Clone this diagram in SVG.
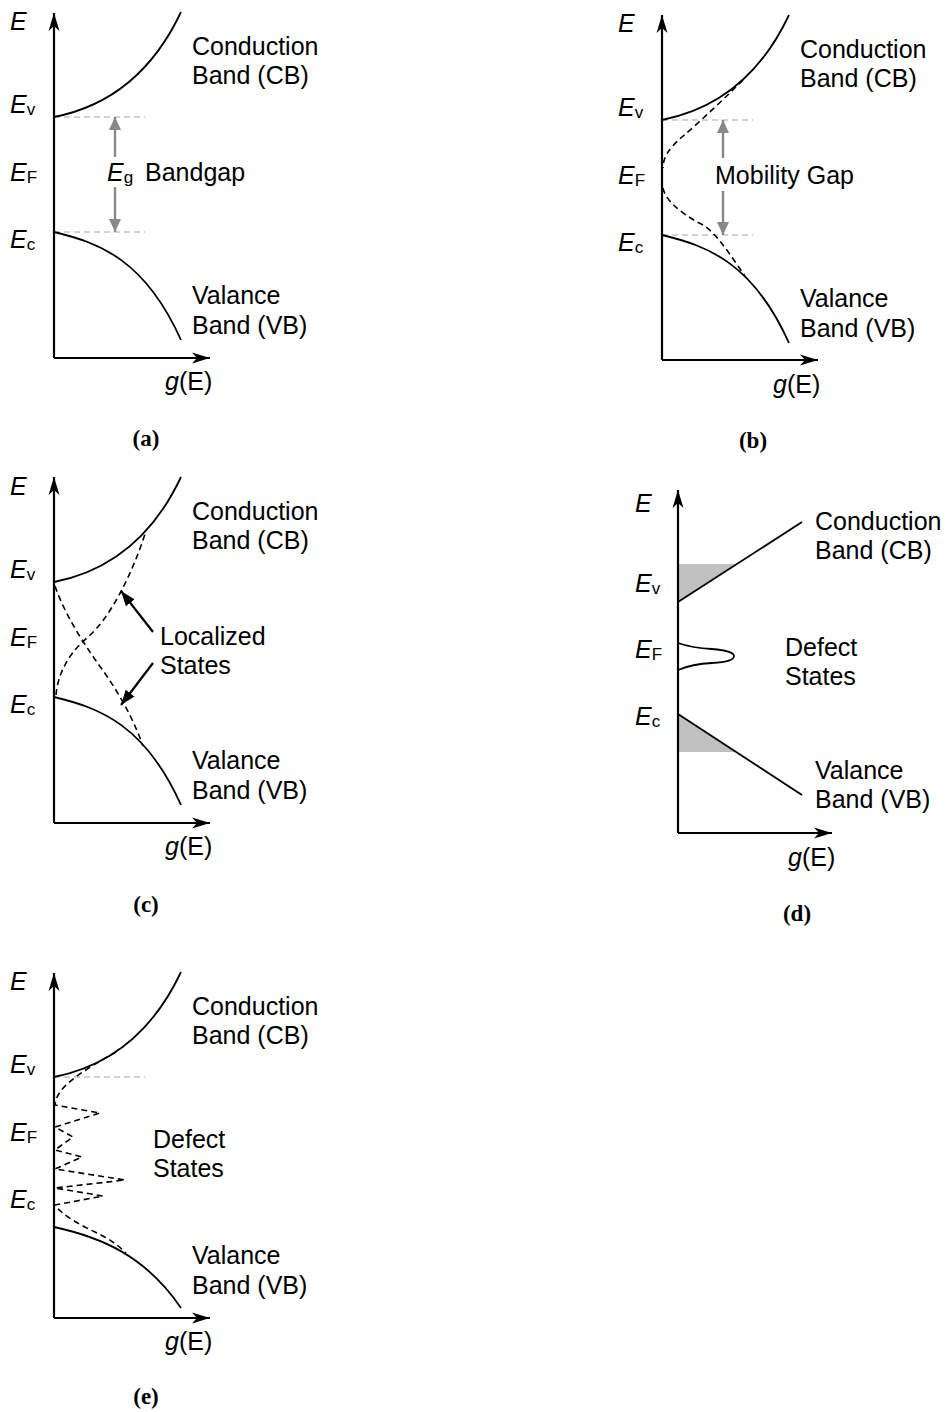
<svg xmlns="http://www.w3.org/2000/svg" width="948" height="1412" viewBox="0 0 948 1412">
<style>
.ax{fill:none;stroke:#000;stroke-width:2.2;marker-end:url(#axh)}
.cv{fill:none;stroke:#000;stroke-width:1.8}
.ds{fill:none;stroke:#000;stroke-width:1.6;stroke-dasharray:6 4}
.gl{fill:none;stroke:#c4c4c4;stroke-width:1.5;stroke-dasharray:6 4}
.ga{fill:none;stroke:#888;stroke-width:2.4;marker-end:url(#gah)}
.ba{fill:none;stroke:#000;stroke-width:2.2;marker-end:url(#bah)}
.sh{fill:#c0c0c0;stroke:none}
text{font-family:"Liberation Sans",Arial,sans-serif;font-size:25px;fill:#000}
.it{font-style:italic}
.sb{font-size:17px}
.cap{font-family:"Liberation Serif","Times New Roman",serif;font-weight:bold;font-size:23px;text-anchor:middle}
</style>
<defs>
<marker id="axh" markerWidth="20" markerHeight="14" refX="18" refY="7" orient="auto" markerUnits="userSpaceOnUse"><path d="M0,1.5 L18,7 L0,12.5 L5,7 Z" fill="#000"/></marker>
<marker id="gah" markerWidth="14" markerHeight="12" refX="13" refY="6" orient="auto" markerUnits="userSpaceOnUse"><path d="M0,0 L13,6 L0,12 Z" fill="#888"/></marker>
<marker id="bah" markerWidth="16" markerHeight="12" refX="15" refY="6" orient="auto" markerUnits="userSpaceOnUse"><path d="M0,0.5 L15,6 L0,11.5 Z" fill="#000"/></marker>
</defs>

<!-- Panel (a) -->
<g id="panel-a">
<path class="ax" d="M54,358 L54,13"/>
<path class="ax" d="M54,358 L210,358"/>
<path class="gl" d="M54,117 L145,117 M54,232 L145,232"/>
<path class="cv" d="M54,117 C100,108 148,82 181,12"/>
<path class="cv" d="M54,232 C100,243 145,260 181,340"/>
<text x="10" y="30" class="it">E</text>
<text x="10" y="113"><tspan class="it">E</tspan><tspan class="sb" dy="2">v</tspan></text>
<text x="10" y="181"><tspan class="it">E</tspan><tspan class="sb" dy="2">F</tspan></text>
<text x="10" y="248"><tspan class="it">E</tspan><tspan class="sb" dy="2">c</tspan></text>
<text x="107" y="181"><tspan class="it">E</tspan><tspan class="sb" dy="2">g</tspan></text>
<text x="145" y="181">Bandgap</text>
<text x="192" y="55">Conduction</text>
<text x="192" y="84">Band (CB)</text>
<text x="192" y="304">Valance</text>
<text x="192" y="334">Band (VB)</text>
<text x="165" y="390"><tspan class="it">g</tspan>(E)</text>
<text x="146" y="446" class="cap">(a)</text>
</g>

<!-- Panel (b) -->
<g id="panel-b">
<path class="ax" d="M662,360 L662,15"/>
<path class="ax" d="M662,360 L818,360"/>
<path class="gl" d="M662,120 L753,120 M662,235 L753,235"/>
<path class="cv" d="M662,120 C708,111 756,85 789,15"/>
<path class="cv" d="M662,235 C708,246 753,263 789,343"/>
<path class="ds" d="M743,80 C728,95 702,120 682,137 C668,149 663,158 663,168"/>
<path class="ds" d="M663,188 C665,200 680,212 697,222 C714,228 730,255 745,276"/>
<text x="618" y="32" class="it">E</text>
<text x="618" y="116"><tspan class="it">E</tspan><tspan class="sb" dy="2">v</tspan></text>
<text x="618" y="184"><tspan class="it">E</tspan><tspan class="sb" dy="2">F</tspan></text>
<text x="618" y="251"><tspan class="it">E</tspan><tspan class="sb" dy="2">c</tspan></text>
<text x="715" y="184">Mobility Gap</text>
<text x="800" y="58">Conduction</text>
<text x="800" y="87">Band (CB)</text>
<text x="800" y="307">Valance</text>
<text x="800" y="337">Band (VB)</text>
<text x="773" y="393"><tspan class="it">g</tspan>(E)</text>
<text x="753" y="448" class="cap">(b)</text>
</g>

<!-- Panel (c) -->
<g id="panel-c">
<path class="ax" d="M54,823 L54,477"/>
<path class="ax" d="M54,823 L210,823"/>
<path class="cv" d="M54,582 C100,573 148,547 181,477"/>
<path class="cv" d="M54,697 C100,708 145,725 181,805"/>
<path class="ds" d="M55,586 C66,618 88,650 104,672 C120,695 133,718 143,746"/>
<path class="ds" d="M56,695 C58,672 70,652 88,637 C110,618 132,575 146,531"/>
<text x="10" y="495" class="it">E</text>
<text x="10" y="578"><tspan class="it">E</tspan><tspan class="sb" dy="2">v</tspan></text>
<text x="10" y="646"><tspan class="it">E</tspan><tspan class="sb" dy="2">F</tspan></text>
<text x="10" y="713"><tspan class="it">E</tspan><tspan class="sb" dy="2">c</tspan></text>
<text x="160" y="645">Localized</text>
<text x="160" y="674">States</text>
<text x="192" y="520">Conduction</text>
<text x="192" y="549">Band (CB)</text>
<text x="192" y="769">Valance</text>
<text x="192" y="799">Band (VB)</text>
<text x="165" y="855"><tspan class="it">g</tspan>(E)</text>
<text x="146" y="912" class="cap">(c)</text>
</g>

<!-- Panel (d) -->
<g id="panel-d">
<polygon class="sh" points="678,564 737,564 678,602"/>
<polygon class="sh" points="678,714 736,752 678,752"/>
<path class="ax" d="M678,833 L678,490"/>
<path class="ax" d="M678,833 L832,833"/>
<path class="cv" d="M678,602 L802,522"/>
<path class="cv" d="M678,714 L802,795"/>
<path class="cv" d="M678,643 Q692,648 712,649 Q734,651 734,656 Q734,662 712,663 Q692,664 678,670"/>
<text x="635" y="512" class="it">E</text>
<text x="635" y="592"><tspan class="it">E</tspan><tspan class="sb" dy="2">v</tspan></text>
<text x="635" y="658"><tspan class="it">E</tspan><tspan class="sb" dy="2">F</tspan></text>
<text x="635" y="725"><tspan class="it">E</tspan><tspan class="sb" dy="2">c</tspan></text>
<text x="785" y="656">Defect</text>
<text x="785" y="685">States</text>
<text x="815" y="530">Conduction</text>
<text x="815" y="559">Band (CB)</text>
<text x="815" y="779">Valance</text>
<text x="815" y="808">Band (VB)</text>
<text x="788" y="866"><tspan class="it">g</tspan>(E)</text>
<text x="797" y="921" class="cap">(d)</text>
</g>

<!-- Panel (e) -->
<g id="panel-e">
<path class="ax" d="M54,1318 L54,973"/>
<path class="ax" d="M54,1318 L210,1318"/>
<path class="gl" d="M54,1077 L145,1077"/>
<path class="cv" d="M54,1077 C100,1068 148,1042 181,972"/>
<path class="cv" d="M54,1227 C100,1237 145,1255 181,1308"/>
<path class="ds" stroke-linejoin="round" d="M116,1052 C95,1064 70,1078 60,1092 C56,1098 55,1102 55,1105 L100,1113 L55,1127 L73,1137 L55,1150 L82,1157 L55,1169 L125,1180 L55,1188 L103,1196 L55,1205 C62,1215 80,1225 95,1232 C108,1238 118,1245 126,1253"/>
<text x="10" y="990" class="it">E</text>
<text x="10" y="1073"><tspan class="it">E</tspan><tspan class="sb" dy="2">v</tspan></text>
<text x="10" y="1141"><tspan class="it">E</tspan><tspan class="sb" dy="2">F</tspan></text>
<text x="10" y="1208"><tspan class="it">E</tspan><tspan class="sb" dy="2">c</tspan></text>
<text x="153" y="1148">Defect</text>
<text x="153" y="1177">States</text>
<text x="192" y="1015">Conduction</text>
<text x="192" y="1044">Band (CB)</text>
<text x="192" y="1264">Valance</text>
<text x="192" y="1294">Band (VB)</text>
<text x="165" y="1350"><tspan class="it">g</tspan>(E)</text>
<text x="146" y="1404" class="cap">(e)</text>
</g>

<!-- Connectors -->
<g id="connectors">
<path class="ga" d="M115,157 L115,117"/>
<path class="ga" d="M115,187 L115,232"/>
<path class="ga" d="M723,158 L723,120"/>
<path class="ga" d="M723,191 L723,235"/>
<path class="ba" d="M153,632 L121,591"/>
<path class="ba" d="M153,663 L121,705"/>
</g>
</svg>
